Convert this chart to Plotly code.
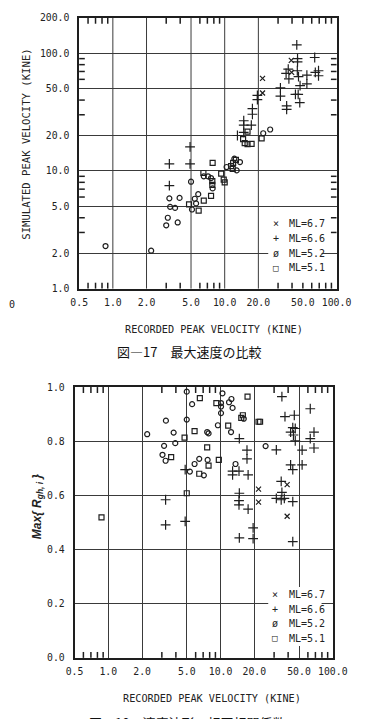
import math
import plotly.graph_objects as go

# ---------------- Fig.17 : simulated vs recorded peak velocity (kine) ----------------
f17_ml67_x = [39.4, 39.7, 21.8, 21.8]
f17_ml67_y = [87.0, 68.8, 61.1, 45.9]
f17_ml66_x = [3.2, 3.2, 4.9, 4.9, 13.0, 14.8, 14.8, 14.8, 17.3, 17.7, 17.7, 19.6, 19.6,
              31.5, 31.5, 35.8, 35.8, 42.9, 45.4, 46.9, 44.1, 44.8, 44.8, 63.8, 37.0,
              35.4, 37.5, 44.6, 45.7, 54.3, 64.6, 69.0, 69.0, 54.3, 47.2]
f17_ml66_y = [11.5, 7.5, 11.5, 16.0, 20.0, 21.3, 26.7, 24.5, 24.5, 33.8, 30.3, 43.8, 40.3,
              50.8, 43.3, 35.7, 33.4, 44.8, 44.8, 38.1, 118.0, 90.0, 84.5, 92.0, 73.4,
              67.5, 60.5, 71.0, 63.2, 65.3, 68.8, 71.0, 64.4, 54.9, 53.1]
f17_ml52_x = [0.86, 2.2, 3.2, 3.95, 3.25, 3.6, 3.1, 3.0, 3.8, 5.0, 5.1, 5.4, 5.55, 5.8,
              6.5, 7.1, 7.55, 7.8, 10.4, 12.2, 13.7, 12.8, 22.1, 25.5]
f17_ml52_y = [2.3, 2.1, 5.85, 5.9, 4.95, 4.85, 4.0, 3.45, 3.65, 8.1, 4.7, 5.8, 5.3, 6.35,
              9.0, 9.0, 8.7, 7.1, 10.8, 12.7, 11.9, 10.1, 20.9, 22.5]
f17_ml51_x = [4.8, 5.85, 6.5, 6.45, 7.75, 7.75, 7.55, 7.8, 9.3, 9.8, 10.0, 11.4, 11.9,
              12.6, 11.8, 15.1, 16.0, 17.4, 16.0, 21.4, 14.6]
f17_ml51_y = [5.2, 4.6, 5.6, 9.6, 8.2, 7.6, 6.15, 11.7, 9.5, 8.45, 8.0, 11.0, 11.7,
              12.4, 10.4, 17.2, 16.9, 17.0, 21.6, 18.9, 18.6]

# ---------------- Fig.18 : max cross-correlation vs recorded peak velocity ----------------
f18_ml67_x = [39.2, 21.8, 21.8, 39.2]
f18_ml67_y = [0.64, 0.623, 0.575, 0.523]
f18_ml66_x = [4.84, 4.84, 3.24, 3.24, 12.8, 12.8, 14.6, 17.6, 17.2, 17.2, 14.7, 14.7,
              14.6, 14.6, 17.6, 19.5, 19.5, 14.7, 35.2, 37.5, 45.4, 44.0, 46.3, 42.1,
              44.6, 46.3, 63.0, 68.0, 63.0, 68.0, 31.4, 53.3, 42.1, 53.3, 44.0, 34.7,
              35.2, 31.4, 34.7, 37.0, 44.0, 44.0]
f18_ml66_y = [0.695, 0.504, 0.584, 0.491, 0.69, 0.676, 0.69, 0.676, 0.767, 0.735, 0.81, 0.608,
              0.581, 0.565, 0.549, 0.48, 0.44, 0.443, 0.965, 0.891, 0.896, 0.85, 0.847, 0.834,
              0.823, 0.801, 0.92, 0.834, 0.81, 0.775, 0.768, 0.767, 0.713, 0.713, 0.695, 0.652,
              0.611, 0.589, 0.584, 0.589, 0.577, 0.429]
f18_ml52_x = [2.22, 3.26, 3.82, 3.95, 3.14, 3.04, 3.24, 5.0, 5.0, 5.58, 7.6, 7.82, 6.46,
              7.67, 5.87, 5.33, 7.1, 10.4, 10.1, 10.1, 10.1, 9.47, 11.9, 12.5, 12.8, 12.4,
              16.1, 13.6, 25.2]
f18_ml52_y = [0.826, 0.876, 0.832, 0.793, 0.783, 0.75, 0.728, 0.983, 0.88, 0.937, 0.834,
              0.829, 0.735, 0.731, 0.716, 0.688, 0.674, 0.977, 0.941, 0.928, 0.904, 0.859,
              0.944, 0.956, 0.923, 0.834, 0.883, 0.716, 0.782]
f18_ml51_x = [0.87, 6.54, 5.87, 4.78, 3.63, 7.6, 7.82, 6.46, 9.65, 9.18, 11.7, 15.3, 15.8,
              17.4, 21.8, 22.5, 5.0]
f18_ml51_y = [0.519, 0.959, 0.837, 0.813, 0.741, 0.777, 0.71, 0.68, 0.731, 0.941, 0.858,
              0.886, 0.896, 0.965, 0.872, 0.872, 0.608]

# ticks / labels
x_tickvals = [0.5, 1, 2, 5, 10, 20, 50, 100]
x_ticktext = ["0.5", "1.0", "2.0", "5.0", "10.0", "20.0", "50.0", "100.0"]
x_minor = [0.6, 0.7, 0.8, 0.9, 3, 4, 6, 7, 8, 9, 30, 40, 60, 70, 80, 90]
x_grid_top = [1, 2, 5, 10, 20]          # the 50 line is not drawn on Fig.17
y17_tickvals = [1, 2, 5, 10, 20, 50, 100, 200]
y17_ticktext = ["1.0", "2.0", "5.0", "10.0", "20.0", "50.0", "100.0", "200.0"]
y17_minor = [3, 4, 6, 7, 8, 9, 30, 40, 60, 70, 80, 90]
y18_tickvals = [0.0, 0.2, 0.4, 0.6, 0.8, 1.0]
y18_ticktext = ["0.0", "0.2", "0.4", "0.6", "0.8", "1.0"]

legend_labels = ["ML=6.7", "ML=6.6", "ML=5.2", "ML=5.1"]
legend_glyphs = ["×", "+", "ø", "□"]

W, H = 374, 719
INK = "#1e1e1e"
GRID = "#3a3a3a"
MONO = "DejaVu Sans Mono"
XLOG = (math.log10(0.5), 2.0)
Y17LOG = (0.0, math.log10(200))
TICK_FRAC = 6 / 275      # ~6 px inside ticks on a ~275 px plot


def px(x):
    return x / W


def py(y):
    return 1 - y / H


def logfrac(v, lo_hi):
    lo, hi = lo_hi
    return (math.log10(v) - lo) / (hi - lo)


fig = go.Figure()

sym = {"67": ("x-thin-open", 5), "66": ("cross-thin-open", 7),
       "52": ("circle-open", 5), "51": ("square-open", 5)}


def add(xs, ys, key, xa, ya):
    s, sz = sym[key]
    fig.add_trace(go.Scatter(x=xs, y=ys, mode="markers", xaxis=xa, yaxis=ya,
                             showlegend=False, hoverinfo="skip",
                             marker=dict(symbol=s, size=sz, color=INK,
                                         line=dict(width=1.2, color=INK))))


add(f17_ml67_x, f17_ml67_y, "67", "x", "y")
add(f17_ml66_x, f17_ml66_y, "66", "x", "y")
add(f17_ml52_x, f17_ml52_y, "52", "x", "y")
add(f17_ml51_x, f17_ml51_y, "51", "x", "y")
add(f18_ml67_x, f18_ml67_y, "67", "x2", "y2")
add(f18_ml66_x, f18_ml66_y, "66", "x2", "y2")
add(f18_ml52_x, f18_ml52_y, "52", "x2", "y2")
add(f18_ml51_x, f18_ml51_y, "51", "x2", "y2")

tickfont = dict(family=MONO, size=9.8, color="#222")

frame = dict(showline=True, linecolor=INK, linewidth=1.6, mirror=True, ticks="",
             zeroline=False, tickfont=tickfont, gridcolor=GRID, gridwidth=1,
             tickmode="array")

top_dom_x = [px(75), px(350)]
top_dom_y = [py(287), py(12)]
bot_dom_x = [px(70), px(346)]
bot_dom_y = [py(662), py(387)]

fig.update_layout(
    width=W, height=H, margin=dict(l=0, r=0, t=0, b=0),
    paper_bgcolor="white", plot_bgcolor="white", showlegend=False,
    xaxis=dict(domain=top_dom_x, type="log", range=list(XLOG), anchor="y",
               tickvals=x_tickvals, ticktext=x_ticktext, showgrid=False,
               ticklabelstandoff=4, **frame),
    yaxis=dict(domain=top_dom_y, type="log", range=list(Y17LOG), anchor="x",
               tickvals=y17_tickvals, ticktext=y17_ticktext, showgrid=True,
               ticklabelstandoff=6, **frame),
    xaxis2=dict(domain=bot_dom_x, type="log", range=list(XLOG), anchor="y2",
                tickvals=x_tickvals, ticktext=x_ticktext, showgrid=True,
                ticklabelstandoff=4, **frame),
    yaxis2=dict(domain=bot_dom_y, range=[0, 1], anchor="x2",
                tickvals=y18_tickvals, ticktext=y18_ticktext, showgrid=True,
                ticklabelstandoff=6, **frame),
)

shapes = []


def seg(xref, yref, x0, x1, y0, y1, color=INK, layer="below", width=1.5):
    shapes.append(dict(type="line", xref=xref, yref=yref, x0=x0, x1=x1, y0=y0, y1=y1,
                       line=dict(color=color, width=width), layer=layer))


# Fig.17 vertical grid (no 50 line) and inside minor ticks
for v in x_grid_top:
    f = logfrac(v, XLOG)
    seg("x domain", "y domain", f, f, 0, 1, GRID, "below", 1)
for v in x_minor + [50]:
    f = logfrac(v, XLOG)
    seg("x domain", "y domain", f, f, 0, TICK_FRAC)
    seg("x domain", "y domain", f, f, 1 - TICK_FRAC, 1)
for v in y17_minor:
    f = logfrac(v, Y17LOG)
    seg("x domain", "y domain", 0, TICK_FRAC, f, f)
    seg("x domain", "y domain", 1 - TICK_FRAC, 1, f, f)
# Fig.18 inside minor ticks on the log x axis
for v in x_minor:
    f = logfrac(v, XLOG)
    seg("x2 domain", "y2 domain", f, f, 0, TICK_FRAC)
    seg("x2 domain", "y2 domain", f, f, 1 - TICK_FRAC, 1)

ann = []


def text(x, y, s, size=10, family=MONO, xanchor="center", angle=0, color="#222"):
    ann.append(dict(x=px(x), y=py(y), xref="paper", yref="paper", text=s,
                    showarrow=False, xanchor=xanchor, yanchor="middle",
                    textangle=angle, font=dict(family=family, size=size, color=color)))


# axis titles
text(219, 329, "RECORDED PEAK VELOCITY (KINE)", size=10.2)
text(217, 703, "RECORDED PEAK VELOCITY (KINE)", size=10.2)
text(18, 140, "SIMULATED PEAK VELOCITY (KINE)", size=10.6, angle=-90)
text(31, 508, "<b><i>Max{ R<sub>gh, i</sub> }</i></b>", size=12,
     family="Liberation Sans", angle=-90)
# captions
text(192, 351, "図―17　最大速度の比較", size=13, family="Noto Sans CJK JP", color="#111")
text(190, 728, "図―18　速度波形の相互相関係数", size=13, family="Noto Sans CJK JP", color="#111")
# stray scan mark
text(3, 303, "0", size=10)

# legends (white box + entries)
for (x0, x1, y0, y1, rows, mx, tx) in [
        (277, 334, 212, 273, [221, 236, 251, 266], 285, 297),
        (277, 334, 590, 650, [598, 613, 627, 642], 284, 297)]:
    shapes.append(dict(type="rect", xref="paper", yref="paper",
                       x0=px(x0), x1=px(x1), y0=py(y1), y1=py(y0),
                       fillcolor="white", line=dict(width=0), layer="above"))
    for r, g, lab in zip(rows, legend_glyphs, legend_labels):
        text(mx, r, g, size=9 if g == "□" else 10)
        text(tx, r, lab, size=10, xanchor="left")

fig.update_layout(annotations=ann, shapes=shapes)
fig.write_html("out.html")
